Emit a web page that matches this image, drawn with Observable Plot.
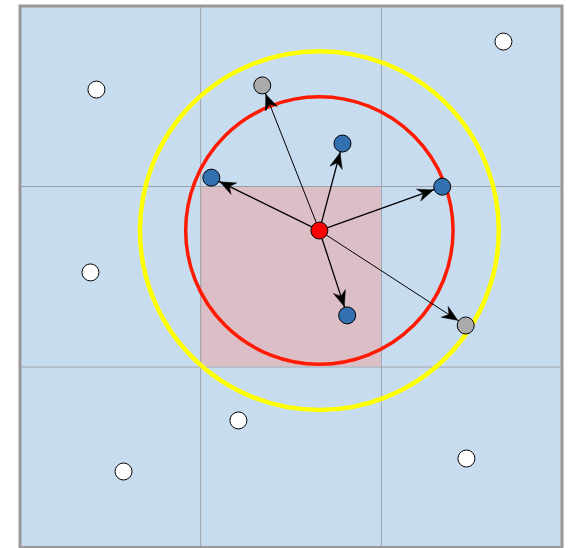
<!DOCTYPE html>
<html><head><meta charset="utf-8">
<script src="https://cdn.jsdelivr.net/npm/d3@7"></script>
<script src="https://cdn.jsdelivr.net/npm/@observablehq/plot@0.6"></script>
<style>html,body{margin:0;padding:0;background:#fff}</style>
</head><body><div id="chart"></div>
<script>
// 3x3 grid of cells (column, row) and which one holds the query point
const cellCol = [0, 1, 2, 0, 1, 2, 0, 1, 2];
const cellRow = [0, 0, 0, 1, 1, 1, 2, 2, 2];
const cellHome = [false, false, false, false, true, false, false, false, false];
const gridLines = [1, 2];

// query point
const queryX = [1.657];
const queryY = [1.756];

// search radii (data units)
const innerRadius = [0.74];
const outerRadius = [0.993];

// points outside the search
const whiteX = [0.423, 2.676, 0.390, 1.209, 0.573, 2.471];
const whiteY = [2.537, 2.803, 1.524, 0.704, 0.421, 0.493];

// neighbours found (inside inner radius)
const blueX = [1.785, 1.059, 2.337, 1.811];
const blueY = [2.238, 2.049, 1.999, 1.286];

// candidates between the radii
const grayX = [1.341, 2.467];
const grayY = [2.560, 1.230];

const cells = cellCol.map((c, i) => ({x1: c, x2: c + 1, y1: cellRow[i], y2: cellRow[i] + 1, home: cellHome[i]}));
const pts = (X, Y) => X.map((x, i) => ({x, y: Y[i]}));
const white = pts(whiteX, whiteY), blue = pts(blueX, blueY), gray = pts(grayX, grayY);
const query = pts(queryX, queryY);
const links = (arr) => arr.map(d => ({x1: queryX[0], y1: queryY[0], x2: d.x, y2: d.y}));
const rings = [
  {x: queryX[0], y: queryY[0], r: innerRadius[0], kind: "inner"},
  {x: queryX[0], y: queryY[0], r: outerRadius[0], kind: "outer"}
];

function stealth(color) {
  const ns = "http://www.w3.org/2000/svg";
  const m = document.createElementNS(ns, "marker");
  m.setAttribute("viewBox", "-28 -9 28 18");
  m.setAttribute("markerWidth", 28);
  m.setAttribute("markerHeight", 18);
  m.setAttribute("markerUnits", "userSpaceOnUse");
  m.setAttribute("refX", 0);
  m.setAttribute("refY", 0);
  m.setAttribute("orient", "auto");
  m.setAttribute("overflow", "visible");
  const p = document.createElementNS(ns, "path");
  p.setAttribute("d", "M-9.5,0L-25,-6.3L-20,0L-25,6.3Z");
  p.setAttribute("fill", color);
  p.setAttribute("stroke", color);
  p.setAttribute("stroke-width", 0.5);
  p.setAttribute("stroke-linejoin", "miter");
  m.appendChild(p);
  return m;
}

const chart = Plot.plot({
  width: 569,
  height: 548,
  marginLeft: 19.5,
  marginRight: 7.5,
  marginTop: 5.5,
  marginBottom: 1,
  x: {domain: [0, 3], axis: null},
  y: {domain: [0, 3], axis: null},
  r: {type: "linear", domain: [0, 3], range: [0, 542]},
  marks: [
    Plot.rect(cells, {x1: "x1", x2: "x2", y1: "y1", y2: "y2", fill: d => d.home ? "#dcbec6" : "#c8dcf0"}),
    Plot.ruleX(gridLines, {stroke: "#9ba1a8", strokeWidth: 1}),
    Plot.ruleY(gridLines, {stroke: "#9ba1a8", strokeWidth: 1}),
    Plot.frame({stroke: "#999999", strokeWidth: 3}),
    Plot.dot(rings.filter(d => d.kind === "outer"), {x: "x", y: "y", r: "r", fill: "none", stroke: "#ffff00", strokeWidth: 4.5}),
    Plot.dot(rings.filter(d => d.kind === "inner"), {x: "x", y: "y", r: "r", fill: "none", stroke: "#ff1a00", strokeWidth: 3.5}),
    Plot.link(links(blue), {x1: "x1", y1: "y1", x2: "x2", y2: "y2", stroke: "black", strokeWidth: 1.3, markerEnd: stealth}),
    Plot.link(links(gray), {x1: "x1", y1: "y1", x2: "x2", y2: "y2", stroke: "black", strokeWidth: 1, markerEnd: stealth}),
    Plot.dot(white, {x: "x", y: "y", r: 8.5, fill: "white", stroke: "black", strokeWidth: 1}),
    Plot.dot(blue, {x: "x", y: "y", r: 8.5, fill: "#3270b0", stroke: "black", strokeWidth: 1}),
    Plot.dot(gray, {x: "x", y: "y", r: 8.5, fill: "#aaaaaa", stroke: "black", strokeWidth: 1}),
    Plot.dot(query, {x: "x", y: "y", r: 8.5, fill: "#ff0000", stroke: "black", strokeWidth: 1})
  ]
});
document.getElementById("chart").appendChild(chart);
</script>
</body></html>
